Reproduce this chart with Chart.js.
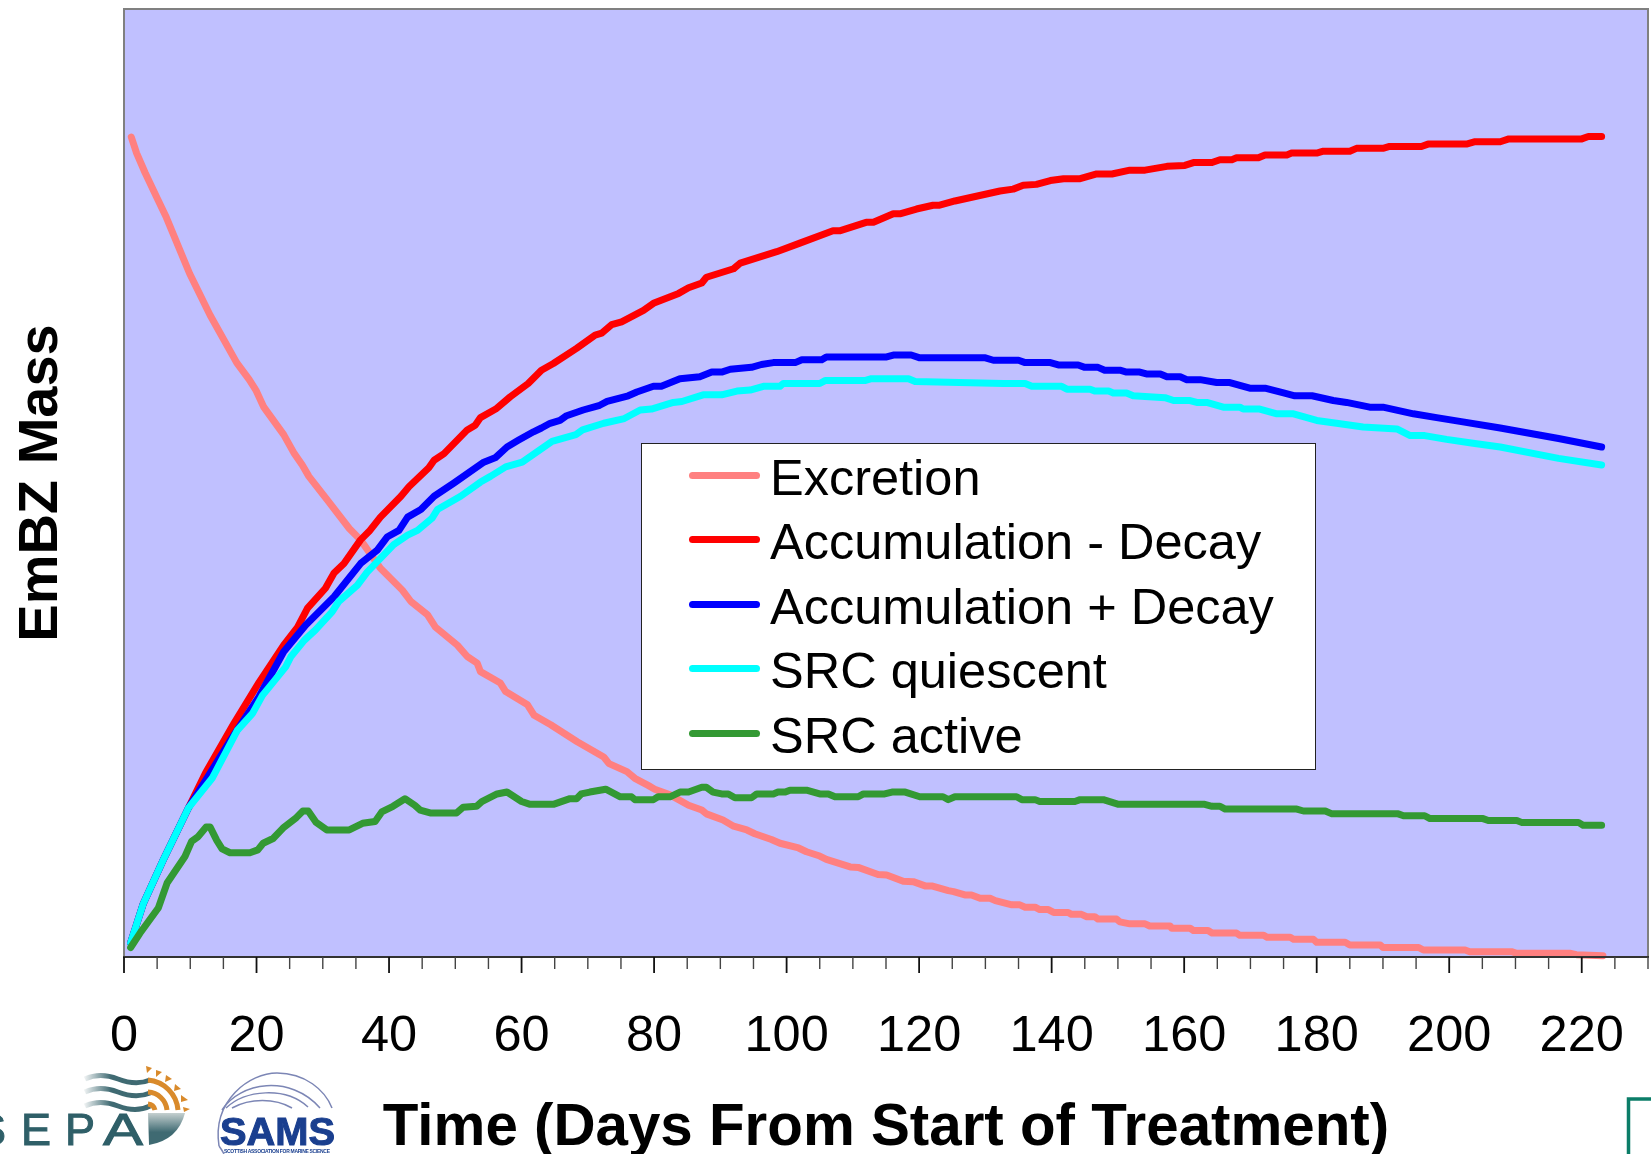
<!DOCTYPE html>
<html>
<head>
<meta charset="utf-8">
<title>EmBZ Mass</title>
<script src="https://cdn.jsdelivr.net/npm/chart.js@4/dist/chart.umd.min.js"></script>
<style>
  body { margin: 0; background: #fff; overflow: hidden; }
  #wrap { position: relative; width: 1651px; height: 1154px; overflow: hidden; }
  canvas { position: absolute; left: 0; top: 0; }
  #logos { position: absolute; left: 0; top: 0; }
  #legend {
    position: absolute; left: 641px; top: 443px; width: 673px; height: 325px;
    background: #fff; border: 1px solid #222;
    font: 50.5px "Liberation Sans", Arial, sans-serif; color: #000;
  }
  .row { position: absolute; left: 0; height: 64px; line-height: 64px; white-space: nowrap; }
  .row i { position: absolute; left: 47px; top: 26px; width: 71px; height: 7px; border-radius: 4px; }
  .row span { position: absolute; left: 128px; }
</style>
</head>
<body>
<div id="wrap">
  <canvas id="myChart" width="1651" height="1154"></canvas>
  <div id="legend"></div>
  <!-- logos, just rough copies -->
  <svg id="logos" width="1651" height="1154" font-family="Liberation Sans, Arial, sans-serif">
    <defs>
      <linearGradient id="fade" x1="0" x2="1" y1="0" y2="0">
        <stop offset="0" stop-color="#3f6a72" stop-opacity="0.1"/>
        <stop offset="0.4" stop-color="#3f6a72"/>
      </linearGradient>
      <linearGradient id="disc" x1="0" x2="0" y1="0" y2="1">
        <stop offset="0" stop-color="#c5d0d0"/>
        <stop offset="0.6" stop-color="#3f6a72"/>
      </linearGradient>
    </defs>
    <g fill="#2f5f68" stroke="#2f5f68" stroke-width="1" font-size="45">
      <text x="-24" y="1145">S</text>
      <text x="21" y="1145">E</text>
      <text x="65" y="1145">P</text>
      <text x="103" y="1145" textLength="40" lengthAdjust="spacingAndGlyphs">A</text>
    </g>
    <path d="M148 1113 L185 1113 Q178 1140 149 1145 Z" fill="url(#disc)"/>
    <g fill="none" stroke="url(#fade)" stroke-width="5">
      <path d="M85 1079 Q100 1072 118 1079 T150 1080"/>
      <path d="M85 1092 Q100 1085 118 1092 T150 1093"/>
      <path d="M85 1106 Q100 1099 118 1106 T150 1106"/>
    </g>
    <g fill="none" stroke="#d98a2b" stroke-width="5">
      <path d="M148 1080 A33 33 0 0 1 178 1110"/>
      <path d="M148 1092 A20 20 0 0 1 167 1110"/>
      <path d="M148 1104 A8 8 0 0 1 155 1110"/>
    </g>
    <g fill="#d98a2b">
      <path d="M146 1066 L152 1068 L147 1073 Z"/>
      <path d="M156 1070 L162 1072 L156 1077 Z"/>
      <path d="M166 1075 L172 1079 L165 1082 Z"/>
      <path d="M175 1084 L181 1089 L174 1091 Z"/>
      <path d="M181 1095 L188 1100 L181 1102 Z"/>
      <path d="M183 1107 L190 1109 L184 1112 Z"/>
    </g>
    <g fill="none" stroke="#7c86b5" stroke-width="1.5">
      <path d="M219 1146 C212 1100 250 1073 277 1073 C305 1073 325 1090 332 1108"/>
      <path d="M222 1110 C240 1082 290 1074 320 1108"/>
      <path d="M226 1108 C245 1090 285 1086 308 1107"/>
      <path d="M232 1108 C250 1098 275 1098 292 1108"/>
      <path d="M219 1146 Q222 1150 224 1154"/>
    </g>
    <text x="220" y="1145" font-size="38" font-weight="bold" fill="#1a3f8f" stroke="#1a3f8f" stroke-width="1" textLength="115" lengthAdjust="spacingAndGlyphs">SAMS</text>
    <text x="224" y="1153" font-size="5" font-weight="bold" fill="#1a3f8f" textLength="106">SCOTTISH ASSOCIATION FOR MARINE SCIENCE</text>
    <path d="M1651 1099 L1628.5 1099 L1628.5 1154" fill="none" stroke="#0b7d68" stroke-width="3.5"/>
  </svg>
</div>
<script>
// labels
const seriesNames = ["Excretion", "Accumulation - Decay", "Accumulation + Decay", "SRC quiescent", "SRC active"];
const seriesColors = ["#FF8080", "#FF0000", "#0000FF", "#00FFFF", "#339933"];
const xTitle = "Time (Days From Start of Treatment)";
const yTitle = "EmBZ Mass";
const xTickLabels = [0, 20, 40, 60, 80, 100, 120, 140, 160, 180, 200, 220];

//values
const excretionDays = [1.1, 1.9, 3.2, 4.9, 6.4, 9.9, 13, 17, 18.9, 19.9, 21.1, 24.1, 25.7, 26.9, 27.9, 30.7, 34, 35.7, 38.7, 42, 43.3, 45.8, 47, 50.3, 51.8, 53.3, 53.8, 56.8, 57.6, 60.9, 61.9, 64.4, 68.4, 72.4, 73.2, 75.9, 77.1, 79.1, 80.1, 82.4, 85.2, 87.2, 87.9, 90.4, 92, 94, 95.2, 97.7, 99, 101.8, 103, 105, 106, 109.6, 110.8, 113.8, 115.1, 117.6, 119.1, 120.9, 121.9, 124.4, 125.2, 126.9, 127.9, 129.2, 130.7, 131.5, 134, 135.2, 136, 137.5, 138.2, 139.5, 140.3, 142.5, 143, 144.5, 145.3, 146.5, 147, 149.8, 150.3, 151.8, 154.1, 154.8, 157.9, 158.1, 160.9, 161.4, 163.6, 164.2, 167.9, 168.4, 172, 172.5, 176, 176.5, 179.5, 180, 184.3, 185, 189.6, 190, 195.4, 196.1, 202.4, 203.1, 209.4, 210.2, 218.2, 219.2, 223.2];
const excretion = [86.5, 84.8, 82.7, 80.2, 78, 72.1, 67.7, 62.7, 60.9, 59.8, 58, 55.1, 53.1, 51.9, 50.7, 48.2, 45.2, 44, 41, 38.7, 37.5, 36.1, 34.8, 32.9, 31.7, 31, 30.1, 28.9, 28, 26.6, 25.5, 24.5, 22.7, 21.1, 20.4, 19.55, 18.85, 18.1, 17.7, 17.1, 16, 15.5, 15.1, 14.45, 13.8, 13.4, 13, 12.4, 12, 11.5, 11.1, 10.65, 10.3, 9.5, 9.45, 8.7, 8.65, 8, 7.95, 7.5, 7.5, 7, 6.9, 6.55, 6.55, 6.2, 6.2, 5.95, 5.5, 5.5, 5.25, 5.25, 5, 5, 4.7, 4.7, 4.5, 4.5, 4.25, 4.25, 4, 4, 3.7, 3.5, 3.5, 3.27, 3.27, 3.03, 3.03, 2.8, 2.8, 2.53, 2.53, 2.29, 2.29, 2.08, 2.08, 1.87, 1.87, 1.55, 1.55, 1.27, 1.27, 1, 1, 0.74, 0.74, 0.56, 0.56, 0.39, 0.39, 0.25, 0.14];

const accMinusDays = [1, 2.9, 5.9, 9.7, 12.3, 16.6, 20.4, 24.1, 26.2, 27.7, 30.4, 31.7, 33.2, 35.7, 37, 38.7, 41.8, 43, 46, 46.8, 48.3, 51.8, 53, 53.8, 56.1, 58.3, 61, 63, 64.8, 68.3, 71.1, 72.1, 73.6, 75.1, 78.4, 79.9, 83.7, 85.2, 87.2, 87.9, 92, 93, 98.5, 102, 107, 108, 112, 113.1, 116.1, 117.1, 119.6, 122.1, 123.1, 125.4, 132.2, 134.2, 135.7, 137.7, 139.8, 141.8, 144.3, 146.8, 149.1, 151.8, 154.1, 157.4, 160.1, 161.4, 164.2, 165.4, 167.2, 167.9, 171.2, 172.2, 175.5, 176.2, 180, 181, 185, 186, 190, 191, 195.8, 196.8, 202.6, 203.9, 207.7, 209, 220, 221, 223];
const accMinus = [1.5, 5.6, 10.2, 15.7, 19.4, 24.65, 29, 32.9, 34.8, 36.8, 38.9, 40.5, 41.5, 44, 44.9, 46.4, 48.6, 49.6, 51.6, 52.4, 53.1, 55.6, 56.1, 56.9, 57.8, 59.1, 60.5, 61.9, 62.6, 64.2, 65.6, 65.8, 66.7, 67, 68.2, 68.95, 70, 70.6, 71.1, 71.7, 72.6, 73.2, 74.4, 75.3, 76.6, 76.6, 77.5, 77.5, 78.4, 78.4, 78.9, 79.3, 79.3, 79.75, 80.8, 81, 81.4, 81.5, 81.9, 82.1, 82.1, 82.6, 82.6, 83, 83, 83.4, 83.5, 83.8, 83.8, 84.1, 84.1, 84.3, 84.3, 84.6, 84.6, 84.8, 84.8, 85, 85, 85.3, 85.3, 85.5, 85.5, 85.75, 85.75, 86, 86, 86.3, 86.3, 86.55, 86.55];

const accPlusDays = [1, 2.9, 5.9, 9.7, 12.6, 16.1, 20.4, 24.1, 27.4, 31.7, 35.7, 38.2, 39.7, 41.5, 42.8, 44.8, 46.8, 49.8, 54.3, 56.1, 57.8, 59.5, 61.8, 63, 64.3, 65.8, 66.8, 69.3, 71.8, 72.9, 76.1, 77.4, 79.9, 81.1, 83.9, 86.9, 88.7, 90.2, 91.5, 94.7, 96.2, 98, 101.3, 102.3, 105.3, 106, 115.1, 116.1, 118.8, 120.1, 130, 131.2, 135, 136, 139.8, 141, 144, 145, 147, 148, 150.3, 151.3, 153.3, 154.3, 156.4, 157.4, 159.4, 160.4, 162.4, 164.9, 166.9, 169.9, 172.2, 175, 176.7, 179.3, 182.5, 184.5, 188, 190, 194.6, 198.1, 201.6, 207.7, 216.5, 223];
const accPlus = [1.5, 5.6, 10.2, 15.7, 18.95, 22.9, 27.5, 32.2, 35, 38, 41.5, 42.9, 44.3, 45, 46.4, 47.2, 48.6, 50, 52.2, 52.7, 53.8, 54.5, 55.4, 55.8, 56.3, 56.6, 57.1, 57.7, 58.2, 58.6, 59.2, 59.6, 60.2, 60.2, 61, 61.2, 61.7, 61.7, 62, 62.2, 62.5, 62.7, 62.7, 63, 63, 63.3, 63.3, 63.5, 63.5, 63.2, 63.2, 62.95, 62.95, 62.7, 62.7, 62.45, 62.45, 62.2, 62.2, 61.9, 61.9, 61.7, 61.7, 61.5, 61.5, 61.2, 61.2, 60.9, 60.9, 60.6, 60.6, 60, 60, 59.5, 59.2, 59.2, 58.7, 58.5, 58, 58, 57.3, 56.9, 56.5, 55.8, 54.7, 53.8];

const quiescentDays = [1, 2.9, 5.9, 9.7, 13.3, 17.1, 19.4, 20.9, 24.4, 25.2, 27.2, 28.9, 31.4, 32.4, 35.2, 36.7, 40.7, 42.8, 44.3, 46.5, 47.3, 50.8, 53.8, 55.3, 57.6, 60.1, 64.6, 68.2, 69.2, 72.4, 75.5, 77.9, 79.6, 82.9, 84.2, 87.4, 90.2, 92.5, 94.5, 96.5, 99, 99.5, 105, 105.8, 111.8, 112.8, 118.4, 119.4, 132.7, 136, 137, 141.5, 142.3, 145.8, 146.5, 148.6, 149.3, 151.3, 152.3, 157.1, 158.4, 160.9, 161.9, 163.4, 165.9, 168.4, 168.9, 171.4, 174, 176.5, 180, 183, 187, 192.1, 194.1, 196.3, 199.6, 203.6, 207.7, 216.5, 223];
const quiescent = [1.5, 5.6, 10.2, 15.7, 18.85, 23.9, 25.7, 27.6, 30.6, 31.7, 33.4, 34.5, 36.4, 37.5, 39.2, 40.6, 43.5, 44.5, 45, 46.3, 47.2, 48.6, 50.1, 50.7, 51.7, 52.2, 54.4, 55.1, 55.6, 56.3, 56.8, 57.7, 57.8, 58.5, 58.6, 59.3, 59.3, 59.7, 59.8, 60.2, 60.2, 60.5, 60.5, 60.8, 60.8, 61, 61, 60.7, 60.5, 60.5, 60.2, 60.2, 59.9, 59.9, 59.7, 59.7, 59.5, 59.5, 59.2, 59, 58.7, 58.7, 58.5, 58.5, 58, 58, 57.8, 57.8, 57.3, 57.3, 56.6, 56.3, 55.9, 55.7, 55, 55, 54.6, 54.2, 53.8, 52.6, 51.9];

const activeDays = [1, 2.4, 5.2, 6.5, 9.2, 10.2, 11.2, 12.4, 13, 14, 14.8, 16, 19, 20.2, 21, 22.5, 24, 26, 27, 27.8, 29, 30.6, 34, 36, 37.9, 38.9, 40.6, 42.4, 43.9, 44.7, 46.2, 50.2, 51.2, 53.2, 54, 56.3, 57.8, 60, 61.3, 64.8, 67.3, 68.3, 69, 70.3, 72.7, 74.9, 76.6, 77.1, 79.9, 80.6, 82.4, 83.9, 85.2, 87.2, 87.9, 88.9, 90.2, 91.2, 92.2, 94.7, 95.5, 98, 98.7, 99.8, 100.5, 103, 105, 106.3, 107.3, 110.8, 111.6, 114.8, 115.9, 117.9, 120.1, 123.6, 124.4, 125.4, 134.7, 135.5, 137.5, 138.2, 143.5, 144.3, 147.8, 150.1, 163.1, 164.2, 165.4, 166.2, 177, 178, 181.3, 182.3, 192.3, 193.1, 196.3, 197.1, 205.1, 205.9, 210.2, 210.9, 219.5, 220.2, 223];
const active = [1, 2.5, 5.2, 7.8, 10.6, 12.2, 12.7, 13.7, 13.7, 12.3, 11.4, 11, 11, 11.3, 12, 12.5, 13.6, 14.7, 15.4, 15.4, 14.2, 13.4, 13.4, 14.1, 14.3, 15.3, 15.9, 16.7, 16, 15.5, 15.2, 15.2, 15.8, 15.9, 16.4, 17.2, 17.4, 16.4, 16.1, 16.1, 16.7, 16.7, 17.2, 17.4, 17.7, 16.9, 16.9, 16.6, 16.6, 16.9, 16.9, 17.4, 17.4, 17.9, 17.9, 17.4, 17.2, 17.2, 16.8, 16.8, 17.2, 17.2, 17.4, 17.4, 17.6, 17.6, 17.2, 17.2, 16.9, 16.9, 17.2, 17.2, 17.4, 17.4, 16.9, 16.9, 16.6, 16.9, 16.9, 16.6, 16.6, 16.4, 16.4, 16.6, 16.6, 16.1, 16.1, 15.9, 15.9, 15.6, 15.6, 15.4, 15.4, 15.1, 15.1, 14.9, 14.9, 14.6, 14.6, 14.4, 14.4, 14.2, 14.2, 13.9, 13.9];

const toPoints = (days, vals) => days.map((d, i) => ({ x: d, y: vals[i] }));

const allPoints = [
  toPoints(excretionDays, excretion),
  toPoints(accMinusDays, accMinus),
  toPoints(accPlusDays, accPlus),
  toPoints(quiescentDays, quiescent),
  toPoints(activeDays, active),
];

// legend sits over the plot in the original, so plain html
const legendBox = document.getElementById("legend");
const rowTops = [2, 66, 131, 195, 260];
seriesNames.forEach((name, i) => {
  const row = document.createElement("div");
  row.className = "row";
  row.style.top = rowTops[i] + "px";
  row.innerHTML = `<i style="background:${seriesColors[i]}"></i><span>${name}</span>`;
  legendBox.appendChild(row);
});

// blue-ish plot background and grey frame
const plotFrame = {
  id: "plotFrame",
  beforeDatasetsDraw(chart) {
    const { ctx, chartArea: a } = chart;
    ctx.save();
    ctx.fillStyle = "#C0C0FF";
    ctx.fillRect(a.left, a.top, a.width, a.height);
    ctx.strokeStyle = "#808080";
    ctx.lineWidth = 2;
    ctx.strokeRect(a.left, a.top, a.width, a.height);
    ctx.restore();
  },
  // long ticks on the labelled days, short ones between
  afterDraw(chart) {
    const { ctx, chartArea: a, scales } = chart;
    ctx.save();
    ctx.strokeStyle = "#333";
    ctx.lineWidth = 2;
    ctx.beginPath();
    ctx.moveTo(a.left - 1, a.bottom);
    ctx.lineTo(a.right + 1, a.bottom);
    ctx.stroke();
    scales.x.ticks.forEach((t) => {
      const px = scales.x.getPixelForValue(t.value);
      const major = xTickLabels.includes(t.value);
      ctx.strokeStyle = major ? "#111" : "#444";
      ctx.lineWidth = major ? 1.8 : 1.4;
      ctx.beginPath();
      ctx.moveTo(px, a.bottom);
      ctx.lineTo(px, a.bottom + (major ? 16 : 12));
      ctx.stroke();
    });
    ctx.restore();
  },
};

const font = "'Liberation Sans', Arial, sans-serif";

new Chart(document.getElementById("myChart"), {
  type: "scatter",
  data: {
    datasets: seriesNames.map((name, i) => ({
      label: name,
      data: allPoints[i],
      showLine: true,
      borderColor: seriesColors[i],
      backgroundColor: seriesColors[i],
      borderWidth: 7,
      borderCapStyle: "round",
      borderJoinStyle: "round",
      pointRadius: 0,
      tension: 0,
      order: seriesNames.length - 1 - i,
      clip: false,
    })),
  },
  plugins: [plotFrame],
  options: {
    responsive: false,
    animation: false,
    layout: { padding: { top: 9, right: 3, left: 0, bottom: 0 } },
    plugins: { legend: { display: false }, tooltip: { enabled: false } },
    scales: {
      x: {
        type: "linear",
        min: 0,
        max: 230,
        afterFit: (s) => {
          s.height = 197;
          s.paddingLeft = 0;
          s.paddingRight = 0;
        },
        grid: { display: false },
        border: { display: false },
        ticks: {
          stepSize: 5,
          autoSkip: false,
          maxRotation: 0,
          padding: 42,
          color: "#000",
          font: { family: font, size: 50.5 },
          callback: (v) => (xTickLabels.includes(v) ? String(v) : ""),
        },
        title: {
          display: true,
          text: xTitle,
          color: "#000",
          font: { family: font, size: 58.3, weight: "bold" },
          padding: { top: 0, bottom: -9.5 },
        },
      },
      y: {
        min: 0,
        max: 100,
        afterFit: (s) => { s.width = 124; },
        grid: { display: false },
        border: { display: false },
        ticks: { display: false },
        title: {
          display: true,
          text: yTitle,
          color: "#000",
          font: { family: font, size: 56, weight: "bold" },
          padding: { top: 7.5, bottom: 0 },
        },
      },
    },
  },
});
</script>
</body>
</html>
